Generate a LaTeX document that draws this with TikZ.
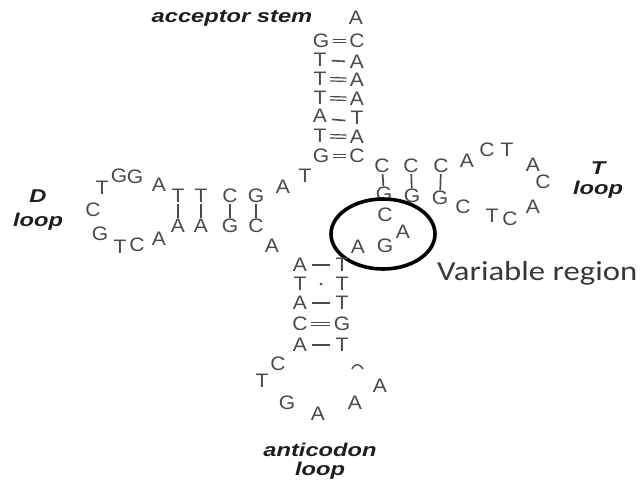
\documentclass[tikz,border=0pt]{standalone}
\usepackage{fontspec}
\usetikzlibrary{shapes.geometric}
\newfontfamily\ntfont{Liberation Sans}
\newfontfamily\capfont{Carlito}
\definecolor{base}{HTML}{4A4A4A}
\definecolor{lab}{HTML}{1E1E1E}
\definecolor{captxt}{HTML}{383838}
\newcommand\widen[1]{\scalebox{1.28}[1]{#1}}
\newcommand\ntwide[1]{\scalebox{1.08}[1]{#1}}

\begin{document}
\begin{tikzpicture}[x=1pt,y=-1pt,
  nt/.style={font=\ntfont\fontsize{19.5}{19.5}\selectfont, text=base, inner sep=0pt},
  lbl/.style={font=\ntfont\bfseries\itshape\fontsize{18.5}{18.5}\selectfont, text=lab, inner sep=0pt},
  wc/.style={draw=base, double=white, double distance=2.2pt, line width=1.2pt,
             shorten <=3.5pt, shorten >=3.5pt},
  sc/.style={draw=base, line width=1.6pt, shorten <=5pt, shorten >=5pt},
  bar/.style={draw=base, line width=1.7pt, shorten <=1pt, shorten >=1pt},
  pip/.style={circle, fill=base, inner sep=0pt, minimum size=3pt},
  ring/.style={draw=black, ellipse, line width=3.6pt, minimum width=104pt, minimum height=70pt, inner sep=0pt}]

\useasboundingbox[fill=white] (0,0) rectangle (641,482);

% ---- acceptor stem ----
\node[lbl] (acclbl) at (232,18) {\widen{acceptor stem}};
\node[nt] (a0) at (356,18) {\ntwide{A}};
\node[nt] (a1l) at (321,41) {\ntwide{G}};  \node[nt] (a1r) at (357,41) {\ntwide{C}};
\node[nt] (a2l) at (320,60) {\ntwide{T}};  \node[nt] (a2r) at (357,62) {\ntwide{A}};
\node[nt] (a3l) at (320,79) {\ntwide{T}};  \node[nt] (a3r) at (357,80) {\ntwide{A}};
\node[nt] (a4l) at (320,98) {\ntwide{T}};  \node[nt] (a4r) at (357,99) {\ntwide{A}};
\node[nt] (a5l) at (320,116) {\ntwide{A}}; \node[nt] (a5r) at (357,118) {\ntwide{T}};
\node[nt] (a6l) at (320,136) {\ntwide{T}}; \node[nt] (a6r) at (357,137) {\ntwide{A}};
\node[nt] (a7l) at (321,156) {\ntwide{G}}; \node[nt] (a7r) at (357,156) {\ntwide{C}};
\draw[wc] (a1l) -- (a1r);
\draw[sc] (a2l) -- (a2r);
\draw[wc] (a3l) -- (a3r);
\draw[wc] (a4l) -- (a4r);
\draw[sc] ([yshift=-3pt]a5l.east) -- ([yshift=-3pt]a5r.west);
\draw[wc] (a6l) -- (a6r);
\draw[wc] (a7l) -- (a7r);

% ---- junction ----
\node[nt] (j1) at (305,176) {\ntwide{T}};
\node[nt] (j2) at (283,187) {\ntwide{A}};
\node[nt] (k1) at (272,246) {\ntwide{A}};

% ---- D arm ----
\node[lbl] (dlbl) at (38,196) {\widen{D}};
\node[lbl] (dloop) at (38,222) {\widen{loop}};
\node[nt] (d1) at (178,196) {\ntwide{T}}; \node[nt] (e1) at (178,226) {\ntwide{A}};
\node[nt] (d2) at (201,196) {\ntwide{T}}; \node[nt] (e2) at (201,226) {\ntwide{A}};
\node[nt] (d3) at (230,196) {\ntwide{C}}; \node[nt] (e3) at (230,226) {\ntwide{G}};
\node[nt] (d4) at (256,196) {\ntwide{G}}; \node[nt] (e4) at (256,226) {\ntwide{C}};
\foreach \i in {1,...,4} { \draw[bar] (d\i) -- (e\i); }
\node[nt] (l1) at (159,185) {\ntwide{A}};
\node[nt] (l2) at (135,177) {\ntwide{G}};
\node[nt] (l3) at (119,176) {\ntwide{G}};
\node[nt] (l4) at (102,188) {\ntwide{T}};
\node[nt] (l5) at (93,210) {\ntwide{C}};
\node[nt] (l6) at (100,234) {\ntwide{G}};
\node[nt] (l7) at (120,247) {\ntwide{T}};
\node[nt] (l8) at (137,245) {\ntwide{C}};
\node[nt] (l9) at (159,239) {\ntwide{A}};

% ---- T arm ----
\node[lbl] (tlbl) at (598,168) {\widen{T}};
\node[lbl] (tloop) at (598,190) {\widen{loop}};
\node[nt] (t1) at (382,166) {\ntwide{C}}; \node[nt] (g1) at (384,194) {\ntwide{G}};
\node[nt] (t2) at (411,166) {\ntwide{C}}; \node[nt] (g2) at (412,196) {\ntwide{G}};
\node[nt] (t3) at (441,166) {\ntwide{C}}; \node[nt] (g3) at (440,198) {\ntwide{G}};
\draw[bar] (t1) -- (g1);
\draw[bar] (t2) -- (g2);
\draw[bar] (t3) -- (g3);
\node[nt] (t4) at (467,161) {\ntwide{A}};
\node[nt] (t5) at (487,150) {\ntwide{C}};
\node[nt] (t6) at (507,150) {\ntwide{T}};
\node[nt] (t7) at (533,165) {\ntwide{A}};
\node[nt] (t8) at (543,182) {\ntwide{C}};
\node[nt] (t9) at (533,207) {\ntwide{A}};
\node[nt] (t10) at (510,219) {\ntwide{C}};
\node[nt] (t11) at (492,216) {\ntwide{T}};
\node[nt] (t12) at (463,207) {\ntwide{C}};

% ---- variable region ----
\node[nt] (v1) at (385,215) {\ntwide{C}};
\node[nt] (v2) at (403,232) {\ntwide{A}};
\node[nt] (v3) at (385,246) {\ntwide{G}};
\node[nt] (v4) at (358,247) {\ntwide{A}};
\node[ring] (varring) at (383,234) {};
\node[font=\capfont\fontsize{27.5}{27.5}\selectfont, text=captxt, anchor=west, inner sep=0pt]
  (varlbl) at (437,273) {\scalebox{1.19}[1]{Variable region}};

% ---- anticodon stem and loop ----
\node[nt] (s1l) at (300,265) {\ntwide{A}}; \node[nt] (s1r) at (342,265) {\ntwide{T}};
\node[nt] (s2l) at (300,284) {\ntwide{T}}; \node[nt] (s2r) at (342,284) {\ntwide{T}};
\node[nt] (s3l) at (300,303) {\ntwide{A}}; \node[nt] (s3r) at (342,303) {\ntwide{T}};
\node[nt] (s4l) at (300,324) {\ntwide{C}}; \node[nt] (s4r) at (342,324) {\ntwide{G}};
\node[nt] (s5l) at (300,345) {\ntwide{A}}; \node[nt] (s5r) at (342,345) {\ntwide{T}};
\draw[sc] (s1l) -- (s1r);
\path (s2l) -- node[pip] (s2dot) {} (s2r);
\draw[sc] (s3l) -- (s3r);
\draw[wc] (s4l) -- (s4r);
\draw[sc] (s5l) -- (s5r);
\node[nt] (c1) at (278,364) {\ntwide{C}};
\node[nt] (c2) at (262,381) {\ntwide{T}};
\node[nt] (c3) at (287,403) {\ntwide{G}};
\node[nt] (c4) at (318,414) {\ntwide{A}};
\node[nt] (c5) at (355,403) {\ntwide{A}};
\node[nt] (c6) at (380,386) {\ntwide{A}};
\draw[base, line width=1.4pt] (352,369) .. controls (355,363) and (359,363) .. (363,369);
\node[lbl] (aclbl) at (320,450) {\widen{anticodon}};
\node[lbl] (acloop) at (320,471) {\widen{loop}};
\end{tikzpicture}
\end{document}
